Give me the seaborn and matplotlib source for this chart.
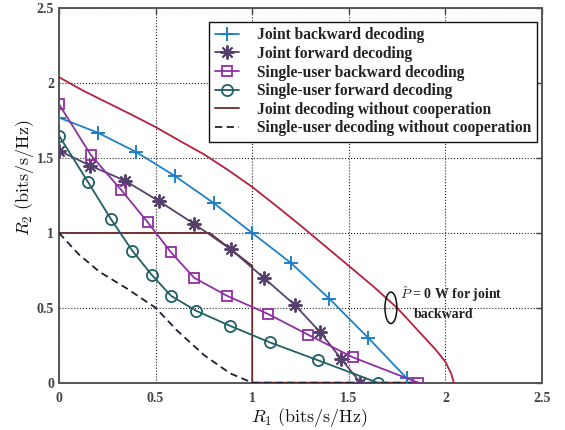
import matplotlib
matplotlib.use('Agg')
import numpy as np
import pandas as pd
import seaborn as sns
import matplotlib.pyplot as plt
from matplotlib.patches import Ellipse

# ---- data ----
jb_x = [0.0, 0.2, 0.4, 0.6, 0.8, 1.0, 1.2, 1.4, 1.6, 1.8]
jb_y = [1.77, 1.67, 1.54, 1.38, 1.20, 1.00, 0.80, 0.56, 0.30, 0.03]

jf_x = [0.0, 0.16, 0.34, 0.52, 0.70, 0.89, 1.06, 1.22, 1.35, 1.46, 1.56]
jf_y = [1.55, 1.45, 1.35, 1.21, 1.06, 0.89, 0.70, 0.52, 0.34, 0.16, 0.0]

sb_x = [0.0, 0.165, 0.32, 0.46, 0.58, 0.70, 0.87, 1.08, 1.29, 1.52, 1.86]
sb_y = [1.86, 1.52, 1.29, 1.07, 0.87, 0.70, 0.58, 0.46, 0.32, 0.17, 0.0]

sf_x = [0.0, 0.15, 0.27, 0.38, 0.48, 0.58, 0.71, 0.885, 1.09, 1.34, 1.65]
sf_y = [1.65, 1.34, 1.09, 0.88, 0.72, 0.58, 0.48, 0.38, 0.27, 0.15, 0.0]

jn_x = [0.0, 0.78, 1.0, 1.0, 1.86]
jn_y = [1.0, 1.0, 0.78, 0.0, 0.0]

sn_x = [0.0, 0.1, 0.21, 0.35, 0.5, 0.61, 0.75, 0.885, 1.0, 1.86]
sn_y = [1.0, 0.86, 0.74, 0.63, 0.50, 0.35, 0.185, 0.063, 0.0, 0.0]

p0_x = [0.0, 0.125, 0.25, 0.375, 0.5, 0.625, 0.75, 0.875, 1.0, 1.125, 1.25,
        1.375, 1.5, 1.625, 1.75, 1.85, 1.95, 2.0, 2.03, 2.044]
p0_y = [2.04, 1.95, 1.87, 1.79, 1.707, 1.615, 1.525, 1.42, 1.307, 1.18, 1.05,
        0.915, 0.78, 0.645, 0.50, 0.36, 0.22, 0.14, 0.06, 0.0]

tick_vals = [0, 0.5, 1, 1.5, 2, 2.5]
tick_labels = ['0', '0.5', '1', '1.5', '2', '2.5']

labels = ['Joint backward decoding', 'Joint forward decoding',
          'Single-user backward decoding', 'Single-user forward decoding',
          'Joint decoding without cooperation',
          'Single-user decoding without cooperation']

# ---- style ----
sns.set_theme(style='white')
plt.rcParams['font.family'] = ['Liberation Serif', 'DejaVu Serif']
plt.rcParams['mathtext.fontset'] = 'cm'

c_jb = '#1f80c8'
c_jf = '#56406e'
c_sb = '#8f2fa3'
c_sf = '#1f5f66'
c_jn = '#6b2a2a'
c_sn = '#1c2030'
c_p0 = '#b5203c'

fig = plt.figure(figsize=(5.65, 4.3), dpi=100)
ax = fig.add_axes([59 / 565, 1 - 382.7 / 430, 483 / 565, 374.4 / 430])

common = dict(ax=ax, estimator=None, sort=False, linewidth=1.3)

sns.lineplot(x=jb_x, y=jb_y, color=c_jb, marker='+', markersize=10,
             markeredgewidth=1.4, markeredgecolor=c_jb, label=labels[0],
             zorder=5, **common)
sns.lineplot(x=jf_x, y=jf_y, color=c_jf, marker=(8, 2, 0), markersize=10,
             markeredgewidth=1.4, markeredgecolor=c_jf, label=labels[1],
             zorder=5, **common)
sns.lineplot(x=sb_x, y=sb_y, color=c_sb, marker='s', markersize=6.5,
             markeredgewidth=1.3, markeredgecolor=c_sb, markerfacecolor='none',
             label=labels[2], zorder=5, **common)
sns.lineplot(x=sf_x, y=sf_y, color=c_sf, marker='o', markersize=8,
             markeredgewidth=1.3, markeredgecolor=c_sf, markerfacecolor='none',
             label=labels[3], zorder=5, **common)
sns.lineplot(x=jn_x, y=jn_y, color=c_jn, label=labels[4], zorder=4, **common)
sns.lineplot(x=sn_x, y=sn_y, color=c_sn, linestyle=(0, (4, 2.5)),
             label=labels[5], zorder=4, **common)
sns.lineplot(x=p0_x, y=p0_y, color=c_p0, zorder=4, **common)

ax.set_xlim(0, 2.5)
ax.set_ylim(0, 2.5)
ax.set_xticks(tick_vals)
ax.set_yticks(tick_vals)
ax.set_xticklabels(tick_labels)
ax.set_yticklabels(tick_labels)
for lab in ax.get_xticklabels() + ax.get_yticklabels():
    lab.set_fontweight('bold')
ax.tick_params(direction='in', top=True, right=True, length=4, width=1,
               color='#444444', labelcolor='#444444', labelsize=10)
ax.tick_params(axis='x', pad=7)
ax.tick_params(axis='y', pad=3.5)
ax.grid(True, linestyle=':', color='#222222', linewidth=0.8)
for sp in ax.spines.values():
    sp.set_color('#555555')
    sp.set_linewidth(1.4)

ax.set_xlabel(r'$R_1\ \mathrm{(bits/s/Hz)}$', fontsize=13, color='#111111')
ax.set_ylabel(r'$R_2\ \mathrm{(bits/s/Hz)}$', fontsize=13, color='#111111')
ax.xaxis.set_label_coords((309 - 59) / 483, (382.7 - 406) / 374.4)
ax.yaxis.set_label_coords((36 - 59) / 483, (382.7 - 178) / 374.4)

leg = ax.legend(loc='upper right', bbox_to_anchor=((537 - 59) / 483, 0.964),
                borderaxespad=0, frameon=True, fancybox=False, framealpha=1,
                edgecolor='#111111', handlelength=1.6, labelspacing=0.17,
                borderpad=0.35, handletextpad=1.15,
                prop={'family': 'Liberation Serif', 'weight': 'bold', 'size': 11.2})
leg.get_frame().set_linewidth(1.0)
for t in leg.get_texts():
    t.set_color('#222222')

ax.add_patch(Ellipse((1.718, 0.50), width=0.062, height=0.21, fill=False,
                     edgecolor='#111111', linewidth=1.1, zorder=6))
ax.text(1.765, 0.59, r'$\hat{P}$ = 0 W for joint', fontsize=10,
        fontweight='bold', ha='left', va='center', color='#222222')
ax.text(1.99, 0.455, 'backward', fontsize=10, fontweight='bold',
        ha='center', va='center', color='#222222')

fig.savefig('out.png', dpi=100)
